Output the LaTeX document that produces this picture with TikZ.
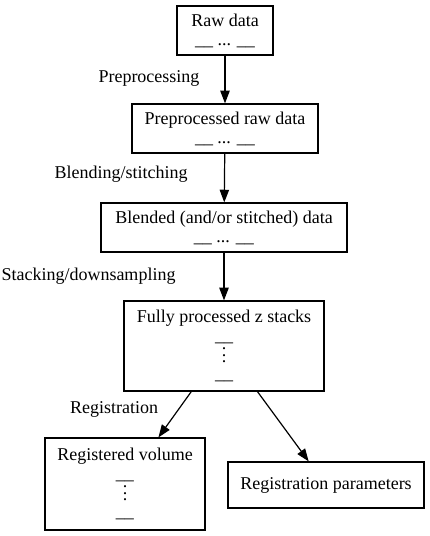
\documentclass[tikz,border=0pt]{standalone}
\usepackage{fontspec}
\setmainfont{Liberation Serif}
\usetikzlibrary{arrows.meta}
\newcommand\myvdots{\smash{\raisebox{-1.2pt}{\vbox{\baselineskip=4.6pt\lineskiplimit=-10pt\hbox{.}\hbox{.}\hbox{.}}}}}
\begin{document}
\begin{tikzpicture}[x=0.75pt,y=-0.75pt,
  box/.style={draw, line width=0.9pt, inner sep=0pt, align=center,
    font=\rmfamily\fontsize{13.5}{14.25}\selectfont},
  lbl/.style={anchor=base, inner sep=0pt, font=\rmfamily\fontsize{13.5}{14.25}\selectfont},
  flow/.style={line width=0.9pt, -{Triangle[length=9.5pt,width=7pt]}}]
\useasboundingbox (0,0) rectangle (429,536);
\node[box, minimum width=96*0.75pt, minimum height=49*0.75pt] (raw) at (225,30.5)
  {Raw data\\\_\_ ... \_\_};
\node[box, minimum width=186*0.75pt, minimum height=49*0.75pt] (pre) at (225,128.5)
  {Preprocessed raw data\\\_\_ ... \_\_};
\node[box, minimum width=246*0.75pt, minimum height=49*0.75pt] (blend) at (224,227.5)
  {Blended (and/or stitched) data\\\_\_ ... \_\_};
\node[box, minimum width=200*0.75pt, minimum height=90*0.75pt] (fully) at (224,346)
  {Fully processed z stacks\\\_\_\\\myvdots\\\_\_};
\node[box, minimum width=160*0.75pt, minimum height=92*0.75pt] (regvol) at (125,484)
  {Registered volume\\\_\_\\\myvdots\\\_\_};
\node[box, minimum width=196*0.75pt, minimum height=46*0.75pt] (regpar) at (326,485)
  {Registration parameters};
\draw[flow] (raw) -- (pre);
\draw[flow] (pre) -- (blend);
\draw[flow] (blend) -- (fully);
\draw[flow] (fully) -- (regvol);
\draw[flow] (fully) -- (regpar);
\node[lbl] (l1) at (149,82) {Preprocessing};
\node[lbl] (l2) at (121,178) {Blending/stitching};
\node[lbl] (l3) at (88.5,280) {Stacking/downsampling};
\node[lbl] (l4) at (114,413) {Registration};
\end{tikzpicture}
\end{document}
